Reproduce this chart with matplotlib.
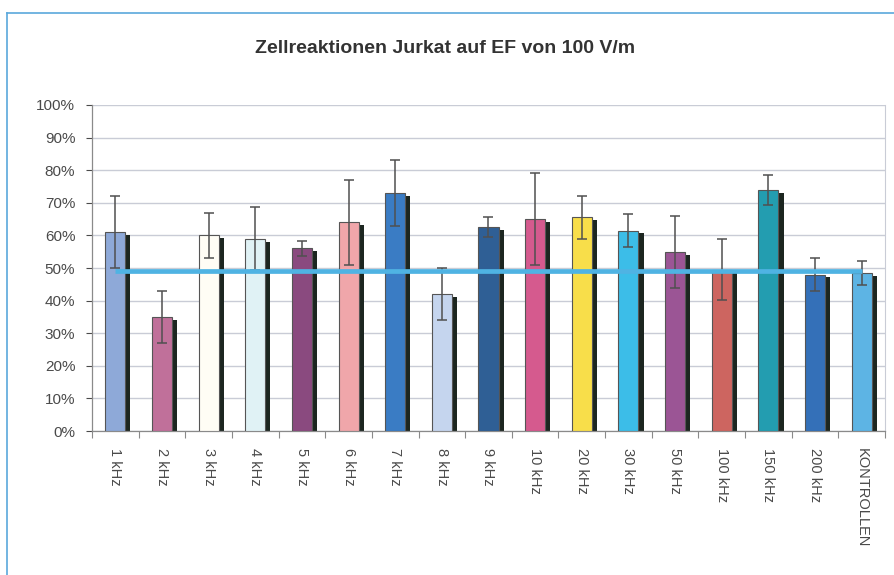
"""Zellreaktionen Jurkat auf EF von 100 V/m - Balkendiagramm mit Fehlerbalken."""
import matplotlib

matplotlib.use("Agg")
import matplotlib.pyplot as plt
from matplotlib.lines import Line2D
from matplotlib.ticker import FixedLocator, PercentFormatter
import numpy as np

# --- data -----------------------------------------------------------------
categories = [
    "1 kHz", "2 kHz", "3 kHz", "4 kHz", "5 kHz", "6 kHz", "7 kHz", "8 kHz",
    "9 kHz", "10 kHz", "20 kHz", "30 kHz", "50 kHz", "100 kHz", "150 kHz",
    "200 kHz", "KONTROLLEN",
]
values = [61, 35, 60, 59, 56, 64, 73, 42, 62.5, 65, 65.5, 61.5, 55, 49.5, 74, 48, 48.5]
errors = [11, 8, 7, 9.6, 2.2, 13, 10, 8, 3, 14, 6.5, 5, 11, 9.3, 4.6, 5.2, 3.8]
control_level = 49
colors = [
    "#8ea9d8", "#c0709a", "#fffdf5", "#e0f2f5", "#8a4a7f", "#f0a6aa",
    "#3a7cc4", "#c5d5ee", "#2f5f95", "#d55a8e", "#f8de4a", "#3cbde8",
    "#9b5595", "#cd6560", "#239db0", "#3470b8", "#5db4e4",
]
y_ticks = list(range(0, 101, 10))

TEXT = "#4a4a4a"
GRID = "#c9ccd6"

plt.rcParams["font.family"] = ["Liberation Sans", "DejaVu Sans"]

fig = plt.figure(figsize=(8.95, 5.75), dpi=100)
ax = fig.add_axes([0.1028, 0.2504, 0.886, 0.567])

x = np.arange(len(categories))
width = 0.43

# drop shadow behind each bar
ax.bar(x + 0.11, np.array(values) - 0.9, width=width, color="#1c2620",
       linewidth=0, zorder=2)
ax.bar(x, values, width=width, color=colors, edgecolor="#555555",
       linewidth=0.8, zorder=3)
ax.errorbar(x, values, yerr=errors, fmt="none", ecolor="#505050",
            elinewidth=1.1, capsize=3.8, capthick=1.1, zorder=4)
ax.plot(x, [control_level] * len(x), color="#4fb3e3", linewidth=3.4,
        solid_capstyle="butt", zorder=5)

ax.set_xlim(-0.5, len(categories) - 0.5)
ax.set_ylim(0, 100)
ax.yaxis.set_major_locator(FixedLocator(y_ticks))
ax.yaxis.set_major_formatter(PercentFormatter(decimals=0))
ax.grid(axis="y", color=GRID, linewidth=1.0, zorder=0)
ax.set_axisbelow(True)

ax.set_xticks(x)
ax.set_xticklabels(categories, rotation=270, fontsize=10.5, color=TEXT)
ax.tick_params(axis="x", which="major", length=0, pad=12)
ax.set_xticks(np.arange(-0.5, len(categories), 1.0), minor=True)
ax.tick_params(axis="x", which="minor", length=5, color="#8a8a8a", width=0.8)
ax.tick_params(axis="y", labelsize=11, colors=TEXT, length=4, width=0.8,
               pad=8)
for lbl in ax.get_yticklabels():
    lbl.set_color(TEXT)

for side in ("left", "bottom"):
    ax.spines[side].set_color("#8a8a8a")
    ax.spines[side].set_linewidth(0.9)
ax.spines["right"].set_color("#c9ccd6")
ax.spines["top"].set_visible(False)

fig.text(0.497, 0.916, "Zellreaktionen Jurkat auf EF von 100 V/m",
         ha="center", va="center", fontsize=14, fontweight="bold",
         color="#333333")

# blue frame of the figure panel (top and left)
fig.add_artist(Line2D([0.008, 1.0], [0.977, 0.977], color="#5aa8dc",
                      linewidth=1.2, transform=fig.transFigure))
fig.add_artist(Line2D([0.008, 0.008], [0.0, 0.977], color="#5aa8dc",
                      linewidth=1.2, transform=fig.transFigure))

fig.savefig("out.png", dpi=100)
